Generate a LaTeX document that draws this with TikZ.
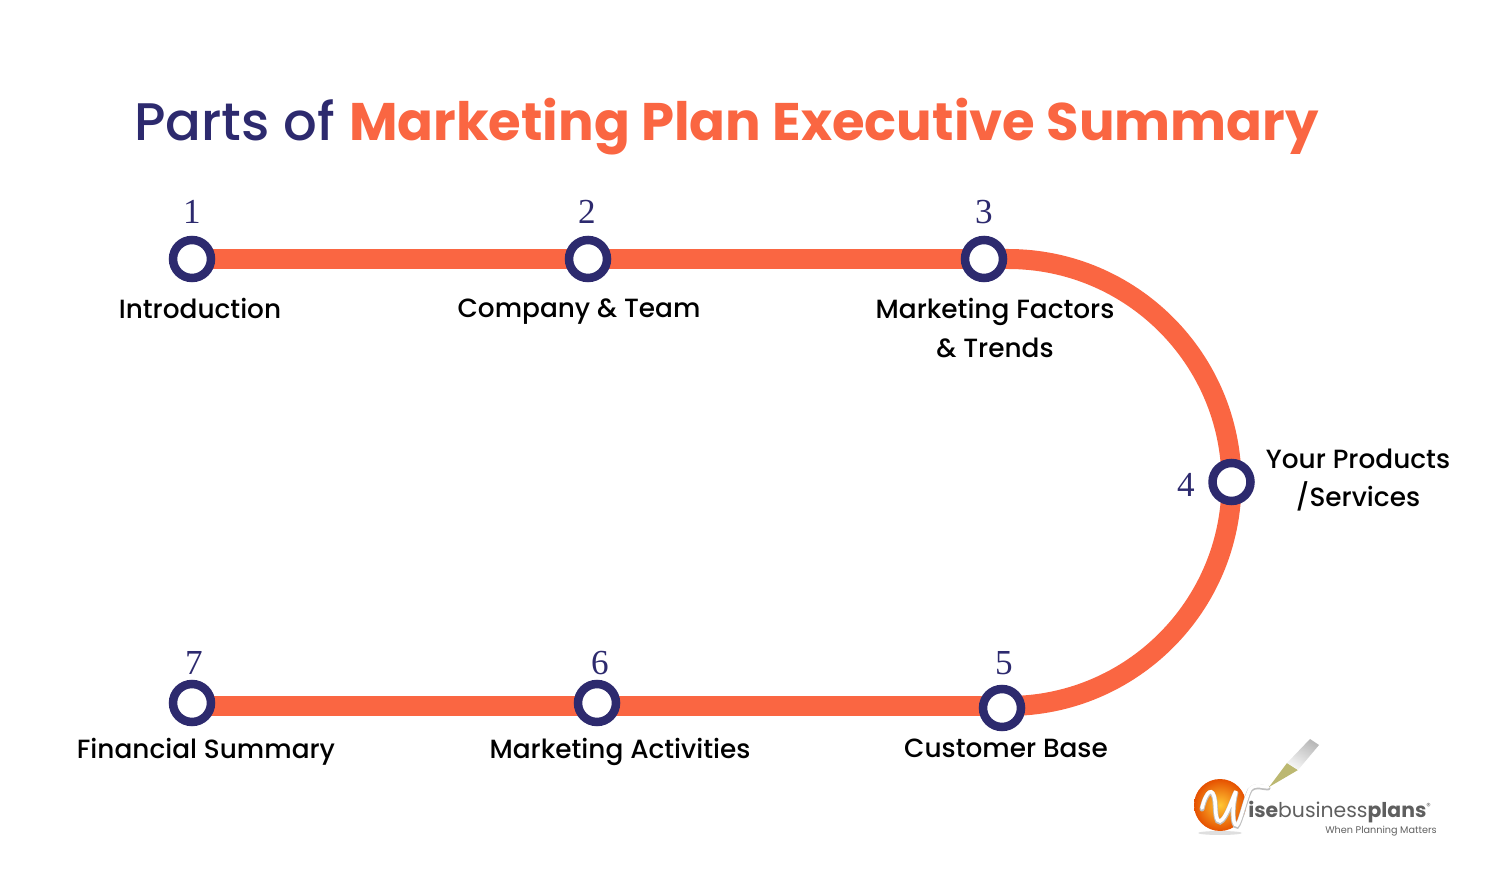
\documentclass[tikz,border=0pt]{standalone}
\usepackage{fontspec}
\setmainfont{Poppins}
\newfontfamily\numfont{Liberation Serif}
\newfontfamily\labelfont{Poppins Medium}
\usetikzlibrary{positioning}
\usetikzlibrary{backgrounds}
\definecolor{navyplan}{RGB}{45,42,110}
\definecolor{orangeplan}{RGB}{250,102,66}
\definecolor{logogray}{RGB}{95,95,95}
\tikzset{
    stopnode/.style={circle, draw=navyplan, line width=0.17cm, fill=white, minimum size=0.76cm, inner sep=0pt},
    numnode/.style={text=navyplan, font=\numfont\fontsize{20}{20}\selectfont},
    labelnode/.style={text=black, align=center, font=\labelfont\fontsize{15}{22}\selectfont},
    trackline/.style={orangeplan, line width=0.4cm}
}
\begin{document}
\begin{tikzpicture}[x=0.02cm, y=0.02cm]
\useasboundingbox (0,0) rectangle (1500,872);
\node (title) at (726.5,745) [font=\fontsize{30.1}{32}\selectfont] {\textcolor{navyplan}{\labelfont Parts of} \textcolor{orangeplan}{\bfseries Marketing Plan Executive Summary}};
%the stops
\node[stopnode] (s1) at (192,613) {};
\node[stopnode] (s2) at (588,613) {};
\node[stopnode] (s3) at (984,613) {};
\node[stopnode] (s4) at (1231.5,390) {};
\node[stopnode] (s5) at (1002,164) {};
\node[stopnode] (s6) at (597,169) {};
\node[stopnode] (s7) at (192,169) {};
\node[numnode] (n1) at (192,660) {1};
\node[numnode] (n2) at (587,660) {2};
\node[numnode] (n3) at (984,660) {3};
\node[numnode] (n4) at (1186,387) {4};
\node[numnode] (n5) at (1004,209) {5};
\node[numnode] (n6) at (600,209) {6};
\node[numnode] (n7) at (194,209) {7};
\node[labelnode] (l1) at (200,564) {Introduction};
\node[labelnode] (l2) at (579,560) {Company \& Team};
\node[labelnode] (l3) at (995,544) {Marketing Factors\\\& Trends};
\node[labelnode] (l4) at (1358,392) {Your Products\\/Services};
\node[labelnode] (l5) at (1006,124) {Customer Base};
\node[labelnode] (l6) at (620,120) {Marketing Activities};
\node[labelnode] (l7) at (206,120) {Financial Summary};
%the track, behind the stops
\begin{scope}[on background layer]
\draw[trackline] (s1.center) -- (s2.center);
\draw[trackline] (s2.center) -- (s3.center);
\draw[trackline] (s3.center) -- (1008,613) arc [start angle=90, end angle=-90, radius=223.5] -- (s5.center |- 0,166);
\draw[trackline] (s5.center |- 0,166) -- (s7.center |- 0,166);
\end{scope}
%the logo
\fill[gray!25] (1220,39) ellipse [x radius=22, y radius=2];
\shade[inner color=orange!55!yellow!80!white, outer color=orange!70!red!90!black] (1220,67) circle [radius=26];
\draw[gray!50, line width=0.1cm, line cap=round] (1202,63) .. controls (1206,80) and (1213,86) .. (1215,70) .. controls (1216,55) and (1216,50) .. (1220,50) .. controls (1226,52) and (1232,72) .. (1236,80) .. controls (1232,65) and (1232,45) .. (1237,46) .. controls (1240,48) and (1246,75) .. (1250,82) .. controls (1256,88) and (1262,84) .. (1268,84);
\draw[white, line width=0.07cm, line cap=round] (1202,64) .. controls (1206,81) and (1213,87) .. (1215,71) .. controls (1216,56) and (1216,51) .. (1220,51) .. controls (1226,53) and (1232,73) .. (1236,81) .. controls (1232,66) and (1232,46) .. (1237,47) .. controls (1240,49) and (1246,76) .. (1250,83) .. controls (1256,89) and (1262,85) .. (1268,85);
\fill[yellow!40!gray] (1269,85) -- (1287,109) -- (1298,102) -- cycle;
\shade[left color=gray!55, right color=gray!8, shading angle=-30] (1287,109) -- (1298,102) -- (1319,127) -- (1310,133) -- cycle;
\node (logoname) at (1340,60) [font=\fontsize{11.6}{11}\selectfont, text=logogray] {\textbf{ise}business\textbf{plans}\textsuperscript{\tiny ®}};
\node (logotag) at (1381,41) [font=\fontsize{5.5}{6}\selectfont, text=logogray] {When Planning Matters};
\end{tikzpicture}
\end{document}
